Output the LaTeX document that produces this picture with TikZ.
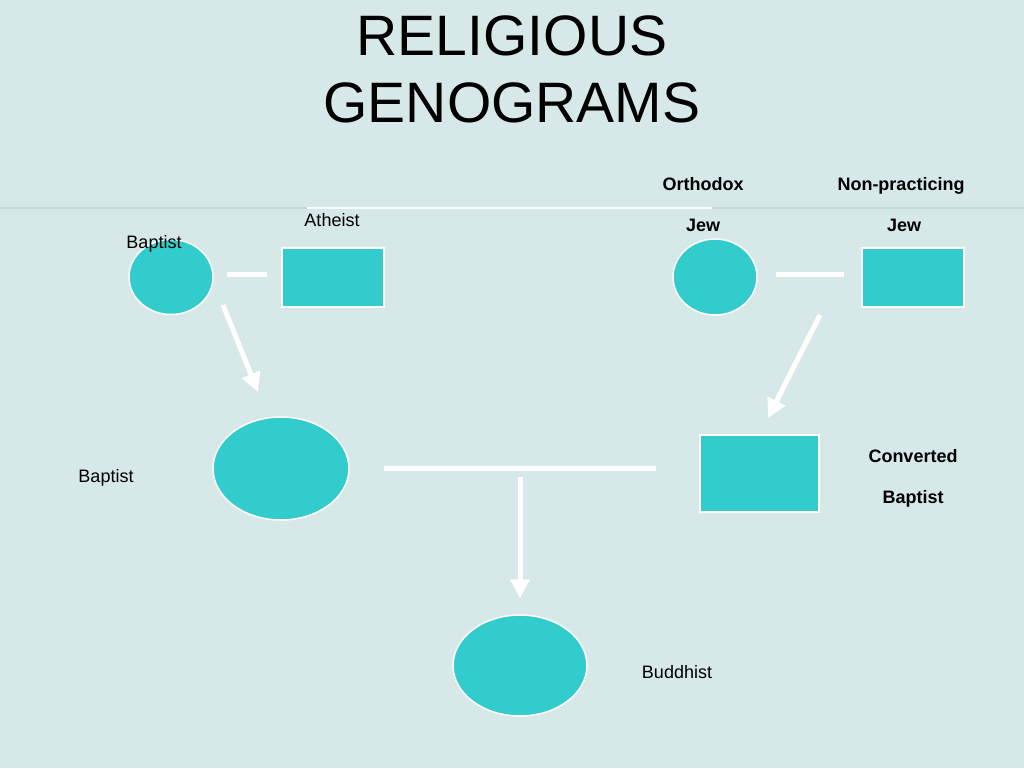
\documentclass[tikz,border=0pt]{standalone}
\usepackage{fontspec}
\setmainfont{Liberation Sans}
\usetikzlibrary{shapes.geometric,arrows.meta}
\definecolor{bgc}{HTML}{D6E8E8}
\definecolor{fillc}{HTML}{33CCCC}
\definecolor{rulec}{HTML}{C3D8D9}
\tikzset{
  person/.style={draw=white, line width=1.5pt, fill=fillc, inner sep=0pt},
  femme/.style={person, ellipse},
  homme/.style={person, rectangle},
  lbl/.style={font=\fontsize{18}{21}\selectfont, inner sep=0pt, text=black, anchor=base},
  blbl/.style={lbl, font=\fontsize{18}{21}\selectfont\bfseries},
  link/.style={draw=white, line width=5pt},
  descent/.style={link, -{Triangle[length=19pt,width=19pt]}},
}
\begin{document}
\begin{tikzpicture}[x=1pt,y=-1pt]
\fill[bgc] (0,0) rectangle (1024,768);
\useasboundingbox (0,0) rectangle (1024,768);
% faint rule
\draw[rulec, line width=1.5pt] (0,208) -- (1024,208);
\draw[white, line width=1.5pt] (307,208) -- (712,208);
% title
\node[font=\fontsize{57}{67}\selectfont, align=center, anchor=base, inner sep=0pt] (title) at (512,122) {RELIGIOUS\\GENOGRAMS};
% people
\node[femme, minimum width=84, minimum height=75] (bap) at (171,277) {};
\node[homme, minimum width=102, minimum height=59] (ath) at (333,277.5) {};
\node[femme, minimum width=84, minimum height=76] (ojew) at (715,277) {};
\node[homme, minimum width=102, minimum height=59] (njew) at (913,277.5) {};
\node[femme, minimum width=136, minimum height=103] (gen2) at (281,468.5) {};
\node[homme, minimum width=119, minimum height=77] (conv) at (759.5,473.5) {};
\node[femme, minimum width=134, minimum height=101] (budd) at (520,665.5) {};
% labels
\node[lbl] (lbap) at (154,248) {Baptist};
\node[lbl] (lath) at (332,226) {Atheist};
\node[blbl] (lorth) at (703,190) {Orthodox};
\node[blbl] (lnon) at (901,190) {Non-practicing};
\node[blbl] (ljew1) at (703,231) {Jew};
\node[blbl] (ljew2) at (904,231) {Jew};
\node[lbl] (lbap2) at (106,482) {Baptist};
\node[blbl] (lconv) at (913,462) {Converted};
\node[blbl] (lconvb) at (913,503) {Baptist};
\node[lbl] (lbudd) at (677,678) {Buddhist};
% connectors
\draw[link, shorten <=13pt, shorten >=14pt] ([yshift=3pt]bap.east) -- ([yshift=3pt]bap.east -| ath.west);
\draw[link, shorten <=18pt, shorten >=17pt] ([yshift=3pt]ojew.east) -- ([yshift=3pt]ojew.east -| njew.west);
\draw[link, shorten <=34pt, shorten >=43pt] (gen2.east) -- (gen2.east -| conv.west);
\coordinate (a1s) at (223,305);
\coordinate (a1e) at (258,392);
\draw[descent] (a1s) -- (a1e);
\coordinate (a2s) at (820,315);
\coordinate (a2e) at (768,418);
\draw[descent] (a2s) -- (a2e);
\coordinate (a3s) at (520,477);
\draw[descent, shorten >=16pt] (a3s) -- (budd.north);
\end{tikzpicture}
\end{document}
